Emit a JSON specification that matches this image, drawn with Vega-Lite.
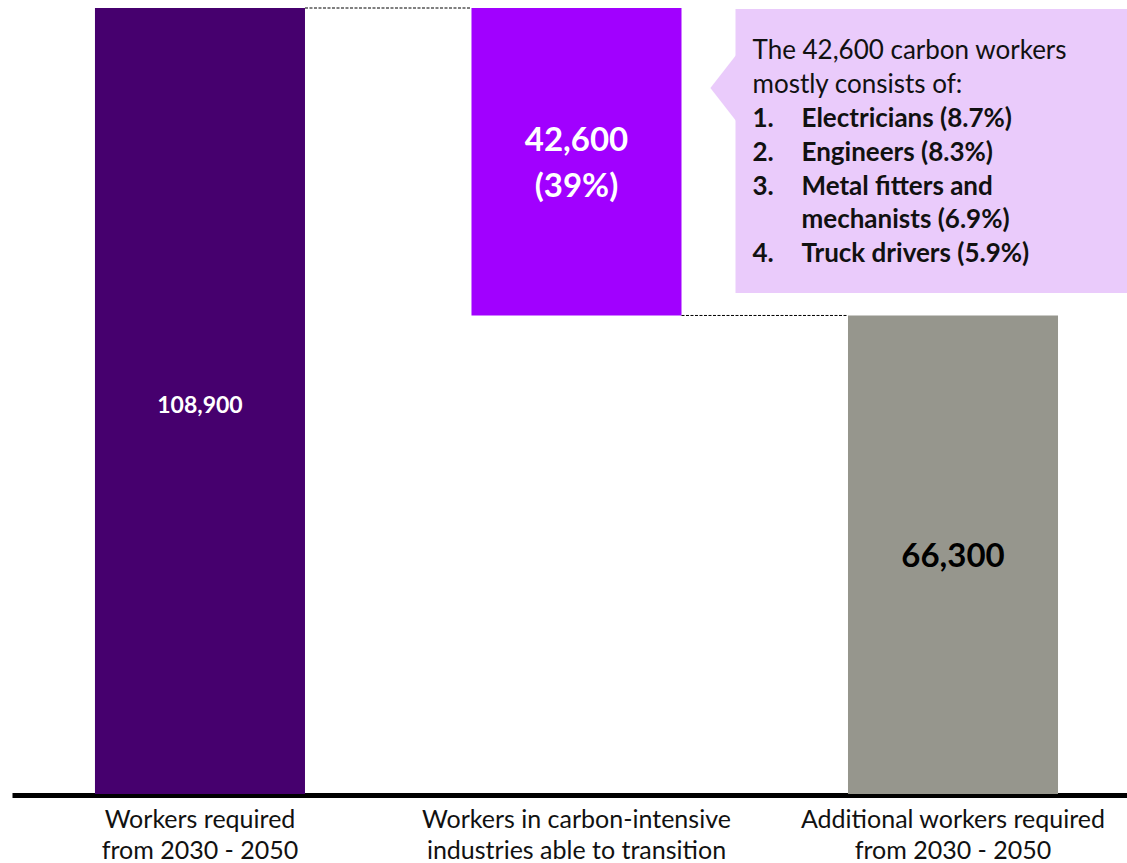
{
  "$schema": "https://vega.github.io/schema/vega-lite/v6.json",
  "width": 1115,
  "height": 786,
  "padding": {"left": 12, "top": 7, "right": 0, "bottom": 0},
  "autosize": {"type": "pad"},
  "background": "white",
  "config": {"view": {"stroke": null}, "font": "Lato"},
  "datasets": {
    "bars": [
      {"category": "Workers required\nfrom 2030 - 2050", "group": "total", "start": 0, "end": 108900, "label": "108,900"},
      {"category": "Workers in carbon-intensive\nindustries able to transition", "group": "transition", "start": 66300, "end": 108900, "label": "42,600\n(39%)"},
      {"category": "Additional workers required\nfrom 2030 - 2050", "group": "additional", "start": 0, "end": 66300, "label": "66,300"}
    ],
    "links": [
      {"from": "Workers required\nfrom 2030 - 2050", "to": "Workers in carbon-intensive\nindustries able to transition", "level": 108900},
      {"from": "Workers in carbon-intensive\nindustries able to transition", "to": "Additional workers required\nfrom 2030 - 2050", "level": 66300}
    ],
    "callout": [
      {"anchor": "Workers in carbon-intensive\nindustries able to transition", "top": 108760, "bottom": 69420, "tip": 97820,
       "intro": "The 42,600 carbon workers\nmostly consists of:",
       "numbers": "1.\n2.\n3.",
       "last": "4.",
       "items": "Electricians (8.7%)\nEngineers (8.3%)\nMetal fitters and\nmechanists (6.9%)\nTruck drivers (5.9%)"}
    ]
  },
  "layer": [
    {
      "data": {"name": "bars"},
      "mark": {"type": "bar", "strokeWidth": 0},
      "encoding": {
        "x": {
          "field": "category", "type": "nominal", "sort": null,
          "scale": {
            "domain": ["Workers required\nfrom 2030 - 2050", "Workers in carbon-intensive\nindustries able to transition", "Additional workers required\nfrom 2030 - 2050"],
            "paddingInner": 0.4422, "paddingOuter": 0.2018, "align": 0.546
          },
          "axis": {
            "title": null, "labelAngle": 0, "ticks": false, "domain": true,
            "domainColor": "#000000", "domainWidth": 5, "offset": 1,
            "labelFont": "Lato", "labelFontSize": 25, "labelColor": "#111111",
            "labelPadding": 12, "labelLineHeight": 31, "labelLimit": 500,
            "labelExpr": "split(datum.label, '\\n')"
          }
        },
        "y": {"field": "start", "type": "quantitative", "scale": {"domain": [0, 108900], "nice": false, "zero": true}, "axis": null},
        "y2": {"field": "end"},
        "color": {
          "field": "group", "type": "nominal", "legend": null,
          "scale": {"domain": ["total", "transition", "additional"], "range": ["#46006E", "#A100FF", "#96968D"]}
        }
      }
    },
    {
      "data": {"name": "links"},
      "mark": {"type": "rule", "color": "#000000", "strokeWidth": 1, "strokeDash": [3, 1.5]},
      "encoding": {
        "x": {"field": "from", "type": "nominal", "bandPosition": 1},
        "x2": {"field": "to", "bandPosition": 0},
        "y": {"field": "level", "type": "quantitative"}
      }
    },
    {
      "data": {"name": "bars"},
      "transform": [
        {"filter": "datum.group === 'total'"},
        {"fold": ["start", "end"], "as": ["k", "v"]}
      ],
      "mark": {"type": "text", "font": "Lato", "fontWeight": "bold", "fontSize": 23, "color": "#FFFFFF", "baseline": "middle", "align": "center", "lineBreak": "\n", "dy": 5},
      "encoding": {
        "x": {"field": "category", "type": "nominal", "sort": null},
        "y": {"field": "v", "type": "quantitative", "aggregate": "mean"},
        "text": {"field": "label"}
      }
    },
    {
      "data": {"name": "bars"},
      "transform": [
        {"filter": "datum.group === 'transition'"},
        {"fold": ["start", "end"], "as": ["k", "v"]}
      ],
      "mark": {"type": "text", "font": "Lato", "fontWeight": "bold", "fontSize": 33, "lineHeight": 46, "color": "#FFFFFF", "baseline": "middle", "align": "center", "lineBreak": "\n", "dy": -21},
      "encoding": {
        "x": {"field": "category", "type": "nominal", "sort": null},
        "y": {"field": "v", "type": "quantitative", "aggregate": "mean"},
        "text": {"field": "label"}
      }
    },
    {
      "data": {"name": "bars"},
      "transform": [
        {"filter": "datum.group === 'additional'"},
        {"fold": ["start", "end"], "as": ["k", "v"]}
      ],
      "mark": {"type": "text", "font": "Lato", "fontWeight": "bold", "fontSize": 33, "color": "#000000", "baseline": "middle", "align": "center", "lineBreak": "\n", "dy": 2},
      "encoding": {
        "x": {"field": "category", "type": "nominal", "sort": null},
        "y": {"field": "v", "type": "quantitative", "aggregate": "mean"},
        "text": {"field": "label"}
      }
    },
    {
      "data": {"name": "callout"},
      "mark": {"type": "rect", "color": "#EACBFB", "xOffset": 54},
      "encoding": {
        "x": {"field": "anchor", "type": "nominal", "bandPosition": 1},
        "x2": {"value": "width"},
        "y": {"field": "top", "type": "quantitative"},
        "y2": {"field": "bottom"}
      }
    },
    {
      "data": {"name": "callout"},
      "mark": {"type": "point", "shape": "M0.42,-1L-0.36,0L0.42,1Z", "filled": true, "color": "#EACBFB", "opacity": 1, "size": 4900, "strokeWidth": 0, "xOffset": 41.5},
      "encoding": {
        "x": {"field": "anchor", "type": "nominal", "bandPosition": 1},
        "y": {"field": "tip", "type": "quantitative"}
      }
    },
    {
      "data": {"name": "callout"},
      "mark": {"type": "text", "font": "Lato", "fontSize": 26, "lineHeight": 34, "color": "#111111", "align": "left", "baseline": "top", "lineBreak": "\n", "xOffset": 71, "dy": 29},
      "encoding": {
        "x": {"field": "anchor", "type": "nominal", "bandPosition": 1},
        "y": {"field": "top", "type": "quantitative"},
        "text": {"field": "intro"}
      }
    },
    {
      "data": {"name": "callout"},
      "mark": {"type": "text", "font": "Lato", "fontSize": 26, "fontWeight": "bold", "lineHeight": 33.8, "color": "#111111", "align": "left", "baseline": "top", "lineBreak": "\n", "xOffset": 71, "dy": 97},
      "encoding": {
        "x": {"field": "anchor", "type": "nominal", "bandPosition": 1},
        "y": {"field": "top", "type": "quantitative"},
        "text": {"field": "numbers"}
      }
    },
    {
      "data": {"name": "callout"},
      "mark": {"type": "text", "font": "Lato", "fontSize": 26, "fontWeight": "bold", "color": "#111111", "align": "left", "baseline": "top", "xOffset": 71, "dy": 232.2},
      "encoding": {
        "x": {"field": "anchor", "type": "nominal", "bandPosition": 1},
        "y": {"field": "top", "type": "quantitative"},
        "text": {"field": "last"}
      }
    },
    {
      "data": {"name": "callout"},
      "mark": {"type": "text", "font": "Lato", "fontSize": 26, "fontWeight": "bold", "lineHeight": 33.8, "color": "#111111", "align": "left", "baseline": "top", "lineBreak": "\n", "xOffset": 120, "dy": 97},
      "encoding": {
        "x": {"field": "anchor", "type": "nominal", "bandPosition": 1},
        "y": {"field": "top", "type": "quantitative"},
        "text": {"field": "items"}
      }
    }
  ]
}
